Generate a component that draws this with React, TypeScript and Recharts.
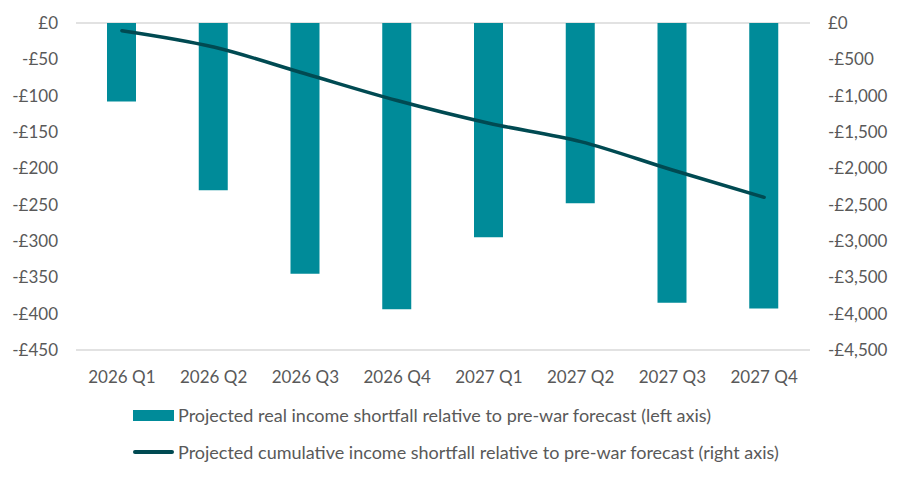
import React from "react";
import { ComposedChart, Bar, Line, XAxis, YAxis, CartesianGrid, Legend } from "recharts";

const quarters = ["2026 Q1", "2026 Q2", "2026 Q3", "2026 Q4", "2027 Q1", "2027 Q2", "2027 Q3", "2027 Q4"];
const quarterlyShortfall = [-108, -230, -345, -394, -295, -248, -385, -393];
const cumulativeShortfall = [-106, -331, -699, -1067, -1379, -1632, -2023, -2399];
const leftTicks = [0, -50, -100, -150, -200, -250, -300, -350, -400, -450];
const rightTicks = [0, -500, -1000, -1500, -2000, -2500, -3000, -3500, -4000, -4500];

const barName = "Projected real income shortfall relative to pre-war forecast (left axis)";
const lineName = "Projected cumulative income shortfall relative to pre-war forecast (right axis)";

const data = quarters.map((q, i) => ({
  quarter: q,
  quarterly: quarterlyShortfall[i],
  cumulative: cumulativeShortfall[i],
}));

const FONT = "Lato, 'Open Sans', sans-serif";
const TEXT = "#595959";
const BAR = "#008B99";
const LINE = "#004A52";

const pounds = (v: number) => (v === 0 ? "£0" : "-£" + Math.abs(v).toLocaleString("en-GB"));

// bar entry first, line second, as in the original
const LegendBox = (props: any) => {
  const items = [...(props.payload || [])].sort((a: any, b: any) => (a.type === "line" ? 1 : 0) - (b.type === "line" ? 1 : 0));
  return (
    <div style={{ height: 90, paddingTop: 25, paddingLeft: 133, boxSizing: "border-box", fontFamily: FONT, fontSize: 18, color: TEXT }}>
      {items.map((item: any, i: number) => (
        <div key={i} style={{ display: "flex", alignItems: "center", height: 20, marginBottom: 17 }}>
          {item.type === "line" ? (
            <span style={{ display: "inline-block", width: 41, height: 4, borderRadius: 2, background: LINE, marginRight: 4 }} />
          ) : (
            <span style={{ display: "inline-block", width: 41, height: 11, background: BAR, marginRight: 4 }} />
          )}
          <span style={{ whiteSpace: "nowrap" }}>{item.value}</span>
        </div>
      ))}
    </div>
  );
};

export default function App() {
  return (
    <div style={{ position: "absolute", left: 0, top: 0, width: 900, height: 480, background: "#fff" }}>
      <ComposedChart width={900} height={480} data={data} margin={{ top: 23, right: 0, bottom: 10, left: 0 }}>
        <CartesianGrid vertical={false} stroke="#D9D9D9" strokeWidth={1.3} />
        <XAxis
          dataKey="quarter"
          axisLine={false}
          tickLine={false}
          tickSize={0}
          tickMargin={21}
          height={30}
          interval={0}
          tick={{ fill: TEXT, fontSize: 17, fontFamily: FONT }}
        />
        <YAxis
          yAxisId="left"
          domain={[-450, 0]}
          ticks={leftTicks}
          tickFormatter={pounds}
          axisLine={false}
          tickLine={false}
          tickSize={0}
          tickMargin={18}
          width={76}
          tick={{ fill: TEXT, fontSize: 17, fontFamily: FONT }}
        />
        <YAxis
          yAxisId="right"
          orientation="right"
          domain={[-4500, 0]}
          ticks={rightTicks}
          tickFormatter={pounds}
          axisLine={false}
          tickLine={false}
          tickSize={0}
          tickMargin={18}
          width={90}
          tick={{ fill: TEXT, fontSize: 17, fontFamily: FONT, textAnchor: "start" }}
        />
        <Legend verticalAlign="bottom" align="left" content={<LegendBox />} />
        <Bar yAxisId="left" dataKey="quarterly" name={barName} fill={BAR} barSize={29} isAnimationActive={false} />
        <Line
          yAxisId="right"
          type="monotone"
          dataKey="cumulative"
          name={lineName}
          stroke={LINE}
          strokeWidth={3.5}
          strokeLinecap="round"
          dot={false}
          activeDot={false}
          isAnimationActive={false}
        />
      </ComposedChart>
    </div>
  );
}
